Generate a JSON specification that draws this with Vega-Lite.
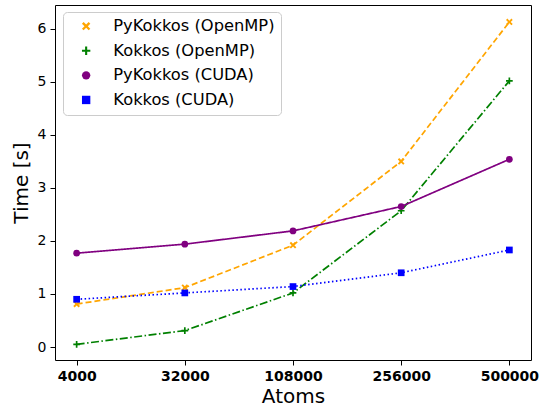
{
  "$schema": "https://vega.github.io/schema/vega-lite/v6.json",
  "width": 476,
  "height": 355,
  "autosize": {"type": "none"},
  "padding": {"left": 55, "top": 5, "right": 9, "bottom": 51},
  "background": "white",
  "config": {
    "font": "DejaVu Sans",
    "view": {"stroke": "black", "strokeWidth": 1}
  },
  "data": {
    "values": [
      {"atoms": "4000", "series": "PyKokkos (OpenMP)", "time": 0.81},
      {"atoms": "32000", "series": "PyKokkos (OpenMP)", "time": 1.12},
      {"atoms": "108000", "series": "PyKokkos (OpenMP)", "time": 1.92},
      {"atoms": "256000", "series": "PyKokkos (OpenMP)", "time": 3.5},
      {"atoms": "500000", "series": "PyKokkos (OpenMP)", "time": 6.13},
      {"atoms": "4000", "series": "Kokkos (OpenMP)", "time": 0.05},
      {"atoms": "32000", "series": "Kokkos (OpenMP)", "time": 0.31},
      {"atoms": "108000", "series": "Kokkos (OpenMP)", "time": 1.02},
      {"atoms": "256000", "series": "Kokkos (OpenMP)", "time": 2.57},
      {"atoms": "500000", "series": "Kokkos (OpenMP)", "time": 5.02},
      {"atoms": "4000", "series": "PyKokkos (CUDA)", "time": 1.77},
      {"atoms": "32000", "series": "PyKokkos (CUDA)", "time": 1.94},
      {"atoms": "108000", "series": "PyKokkos (CUDA)", "time": 2.19},
      {"atoms": "256000", "series": "PyKokkos (CUDA)", "time": 2.65},
      {"atoms": "500000", "series": "PyKokkos (CUDA)", "time": 3.54},
      {"atoms": "4000", "series": "Kokkos (CUDA)", "time": 0.9},
      {"atoms": "32000", "series": "Kokkos (CUDA)", "time": 1.02},
      {"atoms": "108000", "series": "Kokkos (CUDA)", "time": 1.14},
      {"atoms": "256000", "series": "Kokkos (CUDA)", "time": 1.4},
      {"atoms": "500000", "series": "Kokkos (CUDA)", "time": 1.83}
    ]
  },
  "encoding": {
    "x": {
      "field": "atoms",
      "type": "ordinal",
      "sort": ["4000", "32000", "108000", "256000", "500000"],
      "scale": {"type": "point", "padding": 0.2},
      "axis": {
        "title": "Atoms",
        "titleFontSize": 20,
        "titleFontWeight": "normal",
        "titleColor": "black",
        "titlePadding": 3,
        "labelAngle": 0,
        "labelFontSize": 14,
        "labelFontWeight": "bold",
        "labelColor": "black",
        "labelPadding": 4,
        "domain": false,
        "tickColor": "black",
        "tickSize": 5,
        "grid": false
      }
    },
    "y": {
      "field": "time",
      "type": "quantitative",
      "scale": {"domain": [-0.245, 6.45], "nice": false, "zero": false},
      "axis": {
        "title": "Time [s]",
        "titleFontSize": 20,
        "titleFontWeight": "normal",
        "titleColor": "black",
        "titlePadding": 6,
        "values": [0, 1, 2, 3, 4, 5, 6],
        "labelFontSize": 14,
        "labelColor": "black",
        "labelPadding": 4,
        "domain": false,
        "tickColor": "black",
        "tickSize": 5,
        "grid": false
      }
    },
    "color": {
      "field": "series",
      "type": "nominal",
      "sort": ["PyKokkos (OpenMP)", "Kokkos (OpenMP)", "PyKokkos (CUDA)", "Kokkos (CUDA)"],
      "scale": {
        "domain": ["PyKokkos (OpenMP)", "Kokkos (OpenMP)", "PyKokkos (CUDA)", "Kokkos (CUDA)"],
        "range": ["#FFA500", "#008000", "#800080", "#0000FF"]
      },
      "legend": {
        "title": null,
        "orient": "none",
        "legendX": 8,
        "legendY": 7,
        "labelFontSize": 16.3,
        "labelLimit": 400,
        "labelColor": "black",
        "fillColor": "white",
        "strokeColor": "#cccccc",
        "padding": 6,
        "cornerRadius": 4,
        "rowPadding": 7.6,
        "symbolSize": 70,
        "symbolStrokeWidth": 0,
        "symbolOpacity": 1,
        "symbolOffset": 9,
        "labelOffset": 19
      }
    }
  },
  "layer": [
    {
      "mark": {"type": "line", "strokeWidth": 1.7},
      "encoding": {
        "strokeDash": {
          "field": "series",
          "type": "nominal",
          "sort": ["PyKokkos (OpenMP)", "Kokkos (OpenMP)", "PyKokkos (CUDA)", "Kokkos (CUDA)"],
          "scale": {
            "domain": ["PyKokkos (OpenMP)", "Kokkos (OpenMP)", "PyKokkos (CUDA)", "Kokkos (CUDA)"],
            "range": [[6, 3], [8, 2.5, 1.5, 2.5], [1, 0], [1.5, 2.5]]
          },
          "legend": null
        }
      }
    },
    {
      "mark": {"type": "point", "filled": true, "opacity": 1, "size": 45},
      "encoding": {
        "shape": {
          "field": "series",
          "type": "nominal",
          "sort": ["PyKokkos (OpenMP)", "Kokkos (OpenMP)", "PyKokkos (CUDA)", "Kokkos (CUDA)"],
          "scale": {
            "domain": ["PyKokkos (OpenMP)", "Kokkos (OpenMP)", "PyKokkos (CUDA)", "Kokkos (CUDA)"],
            "range": [
              "M-1,-0.6L-0.6,-1L0,-0.4L0.6,-1L1,-0.6L0.4,0L1,0.6L0.6,1L0,0.4L-0.6,1L-1,0.6L-0.4,0Z",
              "M-0.25,-1L0.25,-1L0.25,-0.25L1,-0.25L1,0.25L0.25,0.25L0.25,1L-0.25,1L-0.25,0.25L-1,0.25L-1,-0.25L-0.25,-0.25Z",
              "circle",
              "square"
            ]
          }
        }
      }
    }
  ]
}
